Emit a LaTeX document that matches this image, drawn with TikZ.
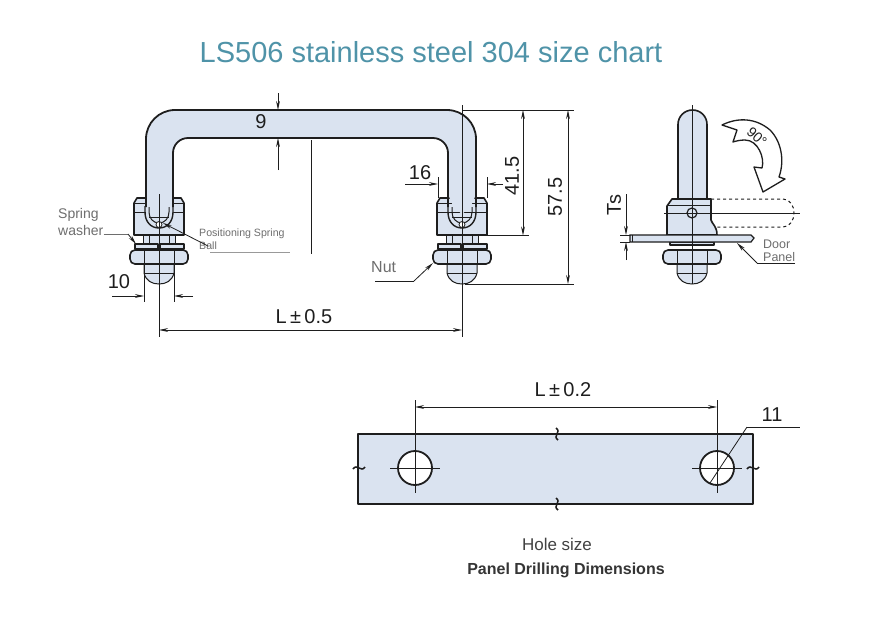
\documentclass[tikz,border=0pt]{standalone}
\usepackage{fontspec}
\setmainfont{Liberation Sans}
\usetikzlibrary{arrows.meta}

\definecolor{steelfill}{HTML}{DAE3F0}
\definecolor{inkline}{HTML}{1E1E1E}
\definecolor{titleblue}{HTML}{4F93A8}
\definecolor{notegray}{HTML}{6E6E6E}

\tikzset{
  part/.style={draw=inkline,line width=1.6pt,line join=round,fill=steelfill},
  inner/.style={draw=inkline,line width=1pt},
  dimline/.style={draw=inkline,line width=0.8pt},
  dimarrow/.style={dimline,-{Stealth[length=9pt,width=3.8pt]}},
  dimboth/.style={dimline,{Stealth[length=9pt,width=3.8pt]}-{Stealth[length=9pt,width=3.8pt]}},
  dimtext/.style={text=inkline,font=\fontsize{20}{20}\selectfont,inner sep=0pt},
  notetext/.style={text=notegray,font=\fontsize{14}{14}\selectfont,inner sep=0pt,anchor=west},
  % nut and domed end, drawn about the axis of the bolt
  boltend/.pic={
    \path[part,line width=1pt] (-15,264) -- (-15,273) .. controls (-13,281) and (-7,284) .. (0,284)
       .. controls (7,284) and (13,281) .. (15,273) -- (15,264) -- cycle;
    \path[inner] (-15,273) -- (15,273);
    \path[part,rounded corners=2pt] (-29,253) -- (-26,250) -- (26,250) -- (29,253) -- (29,261) -- (26,264) -- (-26,264) -- (-29,261) -- cycle;
    \path[inner] (-15,250) -- (-15,264) (15,250) -- (15,264);
  },
  % clamp block of the front view with its washer and stud
  clampblock/.pic={
    \path[part,line width=1pt] (-16,235) rectangle (16,244);
    \path[inner] (-10,235) -- (-10,244) (10,235) -- (10,244);
    \path[part,line width=1.2pt] (-24,244) rectangle (-1,249);
    \path[part,line width=1.2pt] (1,244) rectangle (25,249);
    \path[part] (-25,235) -- (-25,203) -- (-22,198) -- (22,198) -- (25,203) -- (25,235) -- cycle;
    \path[inner] (-25,212) -- (25,212) (-25,203) -- (25,203);
  },
  % the cup the handle end sits in, over the handle
  clampcup/.pic={
    \path[draw=inkline,line width=1.4pt] (-14,206) -- (-14,212) .. controls (-14,222) and (-8,228) .. (0,228) .. controls (8,228) and (14,222) .. (14,212) -- (14,206);
    \path[inner] (-10,207) -- (-10,212) .. controls (-10,218) and (-6,223) .. (0,223) .. controls (6,223) and (10,218) .. (10,212) -- (10,207);
    \path[inner] (-10,217) -- (10,217);
    \path[draw=inkline,line width=0.8pt,fill=white] (0,224.5) circle (3);
  }
}

\begin{document}
\begin{tikzpicture}[x=1pt,y=-1pt]
\useasboundingbox[fill=white] (0,0) rectangle (888,622);

\node[text=titleblue,font=\fontsize{29}{29}\selectfont,inner sep=0pt] (title) at (431,52) {LS506 stainless steel 304 size chart};

% front view
\pic at (159,0) {clampblock};
\pic at (462,0) {clampblock};
\pic at (159,0) {boltend};
\pic at (462,0) {boltend};
\path[fill=steelfill,rounded corners=29pt] (146,218) -- (146,110) -- (476,110) -- (476,218) -- (448,218)
   [rounded corners=15pt] -- (448,138) -- (173,138) [sharp corners] -- (173,218) -- cycle;
\path[draw=inkline,line width=1.8pt,rounded corners=29pt] (146,207) -- (146,110) -- (476,110) -- (476,207);
\path[draw=inkline,line width=1.8pt,rounded corners=15pt] (448,207) -- (448,138) -- (173,138) -- (173,207);
\pic at (159,0) {clampcup};
\pic at (462,0) {clampcup};

% side view
\pic at (692,0) {boltend};
\path[part,rounded corners=14.4pt] (678,200) -- (678,110) -- (707,110) -- (707,200);
\path[part] (667,235) -- (667,206) -- (672,199) -- (711,199) -- (711,220) .. controls (712,224) and (717,226) .. (717,235) -- cycle;
\path[inner] (667,205) -- (711,205);
\path[draw=inkline,line width=1pt,dashed] (711,199) -- (783,199) .. controls (790,199) and (794,206) .. (794,213)
   .. controls (794,220) and (790,227) .. (783,227) -- (716,227);
\path[part,line width=1.2pt] (670,242) rectangle (714,245);
\path[draw=inkline,line width=1.2pt,fill=steelfill] (630,235) -- (751,235) -- (754,238) -- (751,242) -- (630,242) -- cycle;
\path[inner] (632,235) -- (632,242);
\path[draw=inkline,line width=1.2pt,fill=steelfill] (692,213) circle (5);
\coordinate (sidetop) at (692,105);
\coordinate (sidebot) at (692,284);
\coordinate (sideleft) at (664,213);
\coordinate (sideright) at (800,213);
\path (sidetop) edge[dimline] (sidebot) (sideleft) edge[dimline] (sideright);
\path[draw=inkline,line width=1.3pt,fill=white,line join=round] (722,125) .. controls (738,117) and (756,118) .. (770,130)
   .. controls (781,141) and (785,160) .. (779,177) -- (785,179) -- (763,192) -- (754,167) -- (762,168)
   .. controls (765,158) and (758,140) .. (745,140) .. controls (740,140) and (736,141) .. (733,142) -- (737,130) -- cycle;
\node[dimtext,font=\fontsize{14}{14}\selectfont,rotate=-42] (turn) at (757,137) {90°};

% notes of the front view
\node[notetext] (washer) at (58,215) {Spring};
\node[notetext] (washerb) at (58,230) {washer};
\coordinate (washerk) at (128,234);
\coordinate (washerp) at (136,244);
\path[draw=notegray,line width=0.8pt] (washerb.east |- washerk) -- (washerk);
\path (washerk) edge[dimarrow] (washerp);
\node[notetext,font=\fontsize{10.6}{11}\selectfont] (ball) at (199,234) {Positioning Spring};
\node[notetext,font=\fontsize{10.6}{11}\selectfont] (ballb) at (199,246) {Ball};
\coordinate (ballp) at (163,223);
\coordinate (ballu) at (210,252);
\coordinate (ballv) at (290,252);
\path (ballb.center) edge[dimarrow] (ballp);
\path[draw=notegray!70,line width=0.6pt] (ballu) -- (ballv);
\node[notetext,font=\fontsize{16}{16}\selectfont] (nut) at (371,267) {Nut};
\coordinate (nutk) at (375,281);
\coordinate (nutl) at (414,281);
\coordinate (nutp) at (433,263);
\path (nutk) edge[dimline] (nutl)
      (nutl) edge[dimarrow] (nutp);

% dimensions of the front view
\node[dimtext] (nine) at (261,122) {9};
\coordinate (ninea) at (278,93);
\coordinate (nineb) at (278,110);
\coordinate (ninec) at (278,170);
\coordinate (nined) at (278,138);
\path (ninea) edge[dimarrow] (nineb) (ninec) edge[dimarrow] (nined);
\coordinate (mida) at (311,140);
\coordinate (midb) at (311,254);
\path (mida) edge[dimline] (midb);

\coordinate (la) at (159,194);
\coordinate (lb) at (159,337);
\coordinate (lc) at (462,105);
\coordinate (ld) at (462,337);
\coordinate (le) at (159,330);
\coordinate (lf) at (462,330);
\path (la) edge[dimline] (lb) (lc) edge[dimline] (ld)
      (le) edge[dimboth] (lf);
\node[dimtext] (lhalf) at (304,317) {L\,±\,0.5};

\node[dimtext] (ten) at (119,282) {10};
\coordinate (tena) at (144,265);
\coordinate (tenb) at (144,302);
\coordinate (tenc) at (174,265);
\coordinate (tend) at (174,302);
\coordinate (tene) at (112,296);
\coordinate (tenf) at (193,296);
\path (tena) edge[dimline] (tenb) (tenc) edge[dimline] (tend)
      (tene) edge[dimarrow] (tena |- tene) (tenf) edge[dimarrow] (tenc |- tenf);

\node[dimtext] (sixteen) at (420,173) {16};
\coordinate (sixa) at (438,177);
\coordinate (sixb) at (438,198);
\coordinate (sixc) at (487,177);
\coordinate (sixd) at (487,198);
\coordinate (sixe) at (405,184);
\coordinate (sixf) at (503,184);
\path (sixa) edge[dimline] (sixb) (sixc) edge[dimline] (sixd)
      (sixe) edge[dimarrow] (sixa |- sixe) (sixf) edge[dimarrow] (sixc |- sixf);

\coordinate (hia) at (462,110);
\coordinate (hib) at (574,110);
\coordinate (hic) at (487,235.5);
\coordinate (hid) at (529,235.5);
\coordinate (hie) at (465,284);
\coordinate (hif) at (574,284);
\path (hia) edge[dimline] (hib) (hic) edge[dimline] (hid) (hie) edge[dimline] (hif);
\coordinate (fa) at (523,110);
\coordinate (fb) at (523,235.5);
\coordinate (sa) at (568,110);
\coordinate (sb) at (568,284);
\path (fa) edge[dimboth] (fb) (sa) edge[dimboth] (sb);
\node[dimtext,rotate=90] (fortyone) at (512,176) {41.5};
\node[dimtext,rotate=90] (fiftyseven) at (555,197) {57.5};

% dimensions of the side view
\node[dimtext,rotate=90] (ts) at (614,205) {Ts};
\coordinate (tsa) at (626,194);
\coordinate (tsb) at (626,235);
\coordinate (tsc) at (626,260);
\coordinate (tsd) at (626,242);
\coordinate (tse) at (620,235);
\coordinate (tsf) at (630,235);
\coordinate (tsg) at (620,242);
\coordinate (tsh) at (630,242);
\path (tsa) edge[dimarrow] (tsb) (tsc) edge[dimarrow] (tsd)
      (tse) edge[dimline] (tsf) (tsg) edge[dimline] (tsh);
\node[notetext,font=\fontsize{12.5}{13}\selectfont] (door) at (763,244) {Door};
\node[notetext,font=\fontsize{12.5}{13}\selectfont] (panel) at (763,257) {Panel};
\coordinate (doorl) at (795,263);
\coordinate (doork) at (757,263);
\coordinate (doorp) at (737,243);
\path (doorl) edge[dimline] (doork)
      (doork) edge[dimarrow] (doorp);

% panel cut-out
\node[part,line width=1.6pt,minimum width=395pt,minimum height=70pt,inner sep=0pt] (plate) at (555.5,469) {};
\node[draw=inkline,line width=1.8pt,fill=white,circle,minimum size=34pt,inner sep=0pt] (holea) at (415,468) {};
\node[draw=inkline,line width=1.8pt,fill=white,circle,minimum size=34pt,inner sep=0pt] (holeb) at (717,468) {};
\foreach \hole in {holea,holeb}{
  \path (\hole.center) ++(-25,0) edge[dimline] ++(50,0);
  \path (\hole.center) edge[dimline] ++(0,25);
}
\coordinate (topa) at (415,400);
\coordinate (topb) at (717,400);
\coordinate (dima) at (415,407);
\coordinate (dimb) at (717,407);
\path (topa) edge[dimline] (holea.center) (topb) edge[dimline] (holeb.center)
      (dima) edge[dimboth] (dimb);
\node[dimtext] (lpanel) at (563,390) {L\,±\,0.2};
\node[dimtext] (eleven) at (772,415) {11};
\coordinate (elevena) at (710,483);
\coordinate (elevenb) at (747,427);
\coordinate (elevenc) at (800,427);
\path (elevena) edge[dimline] (elevenb) (elevenb) edge[dimline] (elevenc);
% break marks on the edges of the plate
\foreach \mx/\my in {557/434,557/504}{
  \path[draw=inkline,line width=1.5pt] (\mx-1,\my-6) .. controls (\mx+5,\my-2) and (\mx-5,\my+2) .. (\mx+1,\my+6);
}
\foreach \mx/\my in {359/468,753/468}{
  \path[draw=inkline,line width=1.5pt] (\mx-6,\my+1) .. controls (\mx-2,\my-5) and (\mx+2,\my+5) .. (\mx+6,\my-1);
}

\node[text=notegray!60!black,font=\fontsize{17}{17}\selectfont,inner sep=0pt] (hole) at (557,544) {Hole size};
\node[text=inkline!90,font=\bfseries\fontsize{16}{16}\selectfont,inner sep=0pt] (drill) at (566,570) {Panel Drilling Dimensions};
\end{tikzpicture}
\end{document}
